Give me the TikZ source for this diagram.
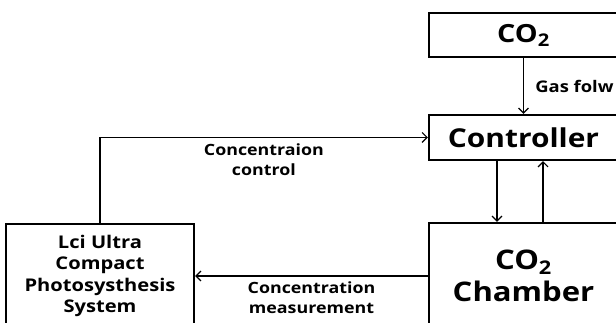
\documentclass[tikz,border=0pt]{standalone}
\usepackage{fontspec}
\setmainfont{Open Sans}[FakeStretch=1.15]
\usetikzlibrary{arrows.meta, positioning}
\tikzset{
  block/.style={draw, line width=2.4pt, inner sep=0pt, align=center},
  flow/.style={-{Straight Barb[length=5pt, width=10pt]}, line width=1.1pt},
  note/.style={align=center, font=\bfseries\fontsize{15.5}{20}\selectfont}
}
\begin{document}
\begin{tikzpicture}[x=1pt, y=-1pt]
                \useasboundingbox (0,0) rectangle (616,323);
                \clip (0,0) rectangle (616,323);
                \node[block, minimum width=189pt, minimum height=44pt, font=\bfseries\fontsize{25}{28}\selectfont] (gas) at (523.5,35) {CO\textsubscript{2}};
                \node[block, minimum width=189pt, minimum height=45pt, font=\bfseries\fontsize{26}{30}\selectfont] (ctrl) at (523.5,137.5) {Controller};
                \node[block, minimum width=189pt, minimum height=106pt, font=\bfseries\fontsize{27}{32}\selectfont] (chamber) at (523.5,276) {CO\textsubscript{2}\\Chamber};
                \node[block, minimum width=188pt, minimum height=104pt, font=\bfseries\fontsize{17.5}{21.5}\selectfont] (lci) at (100,276) {Lci Ultra\\Compact\\Photosysthesis\\System};

                \draw[flow] (gas) -- node[right=8pt, font=\bfseries\fontsize{16}{19}\selectfont] {Gas folw} (ctrl);
                \draw[flow] (lci.north) |- node[note, pos=0.75, below=2pt] {Concentraion\\control} (ctrl.west);
                \draw[flow] ([xshift=-26.5pt]ctrl.south) -- ([xshift=-26.5pt]chamber.north);
                \draw[flow] ([xshift=19.5pt]chamber.north) -- ([xshift=19.5pt]ctrl.south);
                \draw[flow] (chamber.west) -- node[note, below=2pt] {Concentration\\measurement} (lci.east);
            \end{tikzpicture}
\end{document}
